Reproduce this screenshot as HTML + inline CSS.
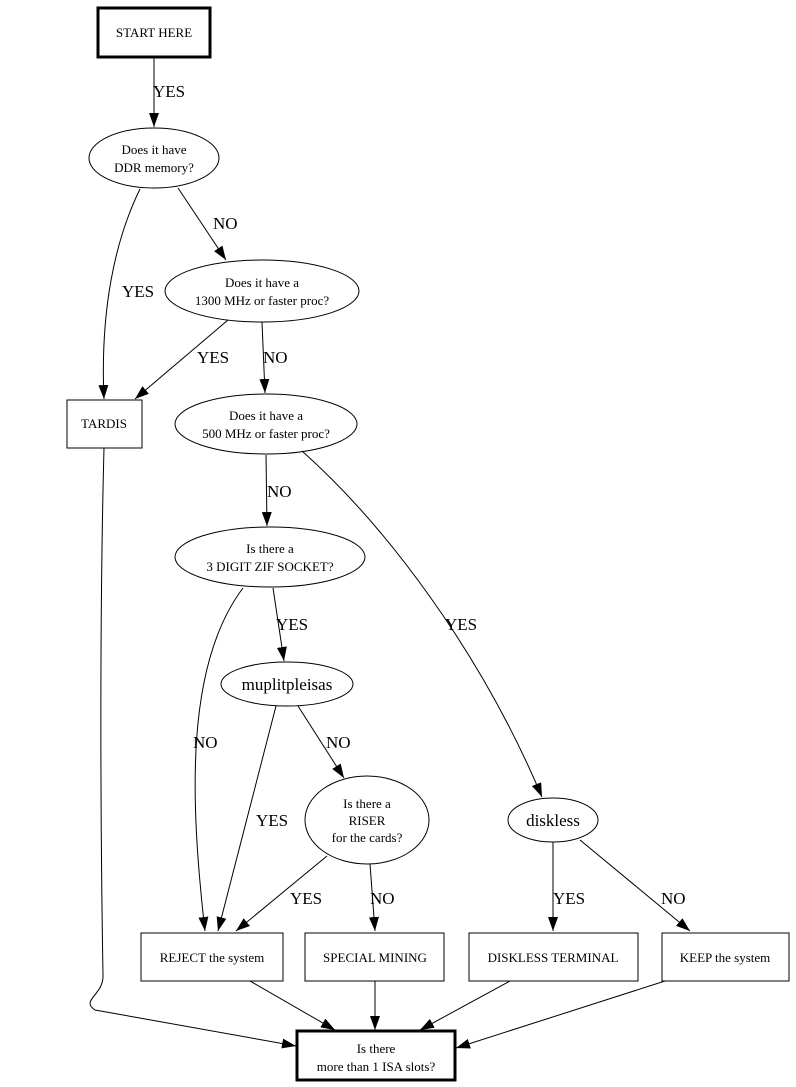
<!DOCTYPE html>
<html><head><style>
html,body{margin:0;padding:0;background:#fff;}
svg{display:block;}
text{font-family:"Liberation Serif",serif;fill:#000;}
.n{font-size:13px;}
.l{font-size:17px;}
</style></head><body>
<svg width="796" height="1087" viewBox="0 0 796 1087" xmlns="http://www.w3.org/2000/svg">
<defs><marker id="a" markerWidth="14" markerHeight="10" refX="14" refY="5" orient="auto" markerUnits="userSpaceOnUse"><path d="M0,0 L14,5 L0,10 z" fill="#000"/></marker></defs>
<g fill="none" stroke="#000" stroke-width="1">
<rect x="98" y="8" width="112" height="49" stroke-width="3"/>
<ellipse cx="154" cy="158" rx="65" ry="30"/>
<ellipse cx="262" cy="291" rx="97" ry="31"/>
<rect x="67" y="400" width="75" height="48"/>
<ellipse cx="266" cy="424" rx="91" ry="30"/>
<ellipse cx="270" cy="557" rx="95" ry="30"/>
<ellipse cx="287" cy="684" rx="66" ry="22"/>
<ellipse cx="367" cy="820" rx="62" ry="44"/>
<ellipse cx="553" cy="820" rx="45" ry="22"/>
<rect x="141" y="933" width="142" height="48"/>
<rect x="305" y="933" width="139" height="48"/>
<rect x="469" y="933" width="169" height="48"/>
<rect x="662" y="933" width="127" height="48"/>
<rect x="297" y="1031" width="158" height="49" stroke-width="3"/>
</g>
<g fill="none" stroke="#000" stroke-width="1" marker-end="url(#a)">
<path d="M154,57 L154,127"/>
<path d="M140,189 C115,240 100,310 104,399"/>
<path d="M178,188 L226,260"/>
<path d="M228,320 L135,399"/>
<path d="M262,322 L265,393"/>
<path d="M266,455 L267,526"/>
<path d="M302,451 C385,525 480,650 542,797"/>
<path d="M273,588 L284,661"/>
<path d="M243,588 C185,665 190,800 205,931"/>
<path d="M276,706 L218,931"/>
<path d="M298,706 L344,778"/>
<path d="M327,856 L236,931"/>
<path d="M370,864 L375,931"/>
<path d="M553,842 L553,931"/>
<path d="M580,840 L690,931"/>
<path d="M104,448 C100,600 100,800 103,975 C104,995 80,1000 95,1010 L296,1046"/>
<path d="M250,981 L335,1030"/>
<path d="M375,981 L375,1030"/>
<path d="M510,981 L420,1030"/>
<path d="M665,981 L456,1048"/>
</g>
<g class="n" text-anchor="middle">
<text x="154" y="37">START HERE</text>
<text x="154" y="154">Does it have</text><text x="154" y="172">DDR memory?</text>
<text x="262" y="287">Does it have a</text><text x="262" y="305">1300 MHz or faster proc?</text>
<text x="104" y="428">TARDIS</text>
<text x="266" y="420">Does it have a</text><text x="266" y="438">500 MHz or faster proc?</text>
<text x="270" y="553">Is there a</text><text x="270" y="571">3 DIGIT ZIF SOCKET?</text>
<text x="287" y="690" style="font-size:17px">muplitpleisas</text>
<text x="367" y="808">Is there a</text><text x="367" y="825">RISER</text><text x="367" y="842">for the cards?</text>
<text x="553" y="826" style="font-size:17px">diskless</text>
<text x="212" y="962">REJECT the system</text>
<text x="375" y="962">SPECIAL MINING</text>
<text x="553" y="962">DISKLESS TERMINAL</text>
<text x="725" y="962">KEEP the system</text>
<text x="376" y="1053">Is there</text><text x="376" y="1071">more than 1 ISA slots?</text>
</g>
<g class="l">
<text x="153" y="97">YES</text>
<text x="122" y="297">YES</text>
<text x="213" y="229">NO</text>
<text x="197" y="363">YES</text>
<text x="263" y="363">NO</text>
<text x="267" y="497">NO</text>
<text x="445" y="630">YES</text>
<text x="276" y="630">YES</text>
<text x="193" y="748">NO</text>
<text x="256" y="826">YES</text>
<text x="326" y="748">NO</text>
<text x="290" y="904">YES</text>
<text x="370" y="904">NO</text>
<text x="553" y="904">YES</text>
<text x="661" y="904">NO</text>
</g>
</svg>
</body></html>
